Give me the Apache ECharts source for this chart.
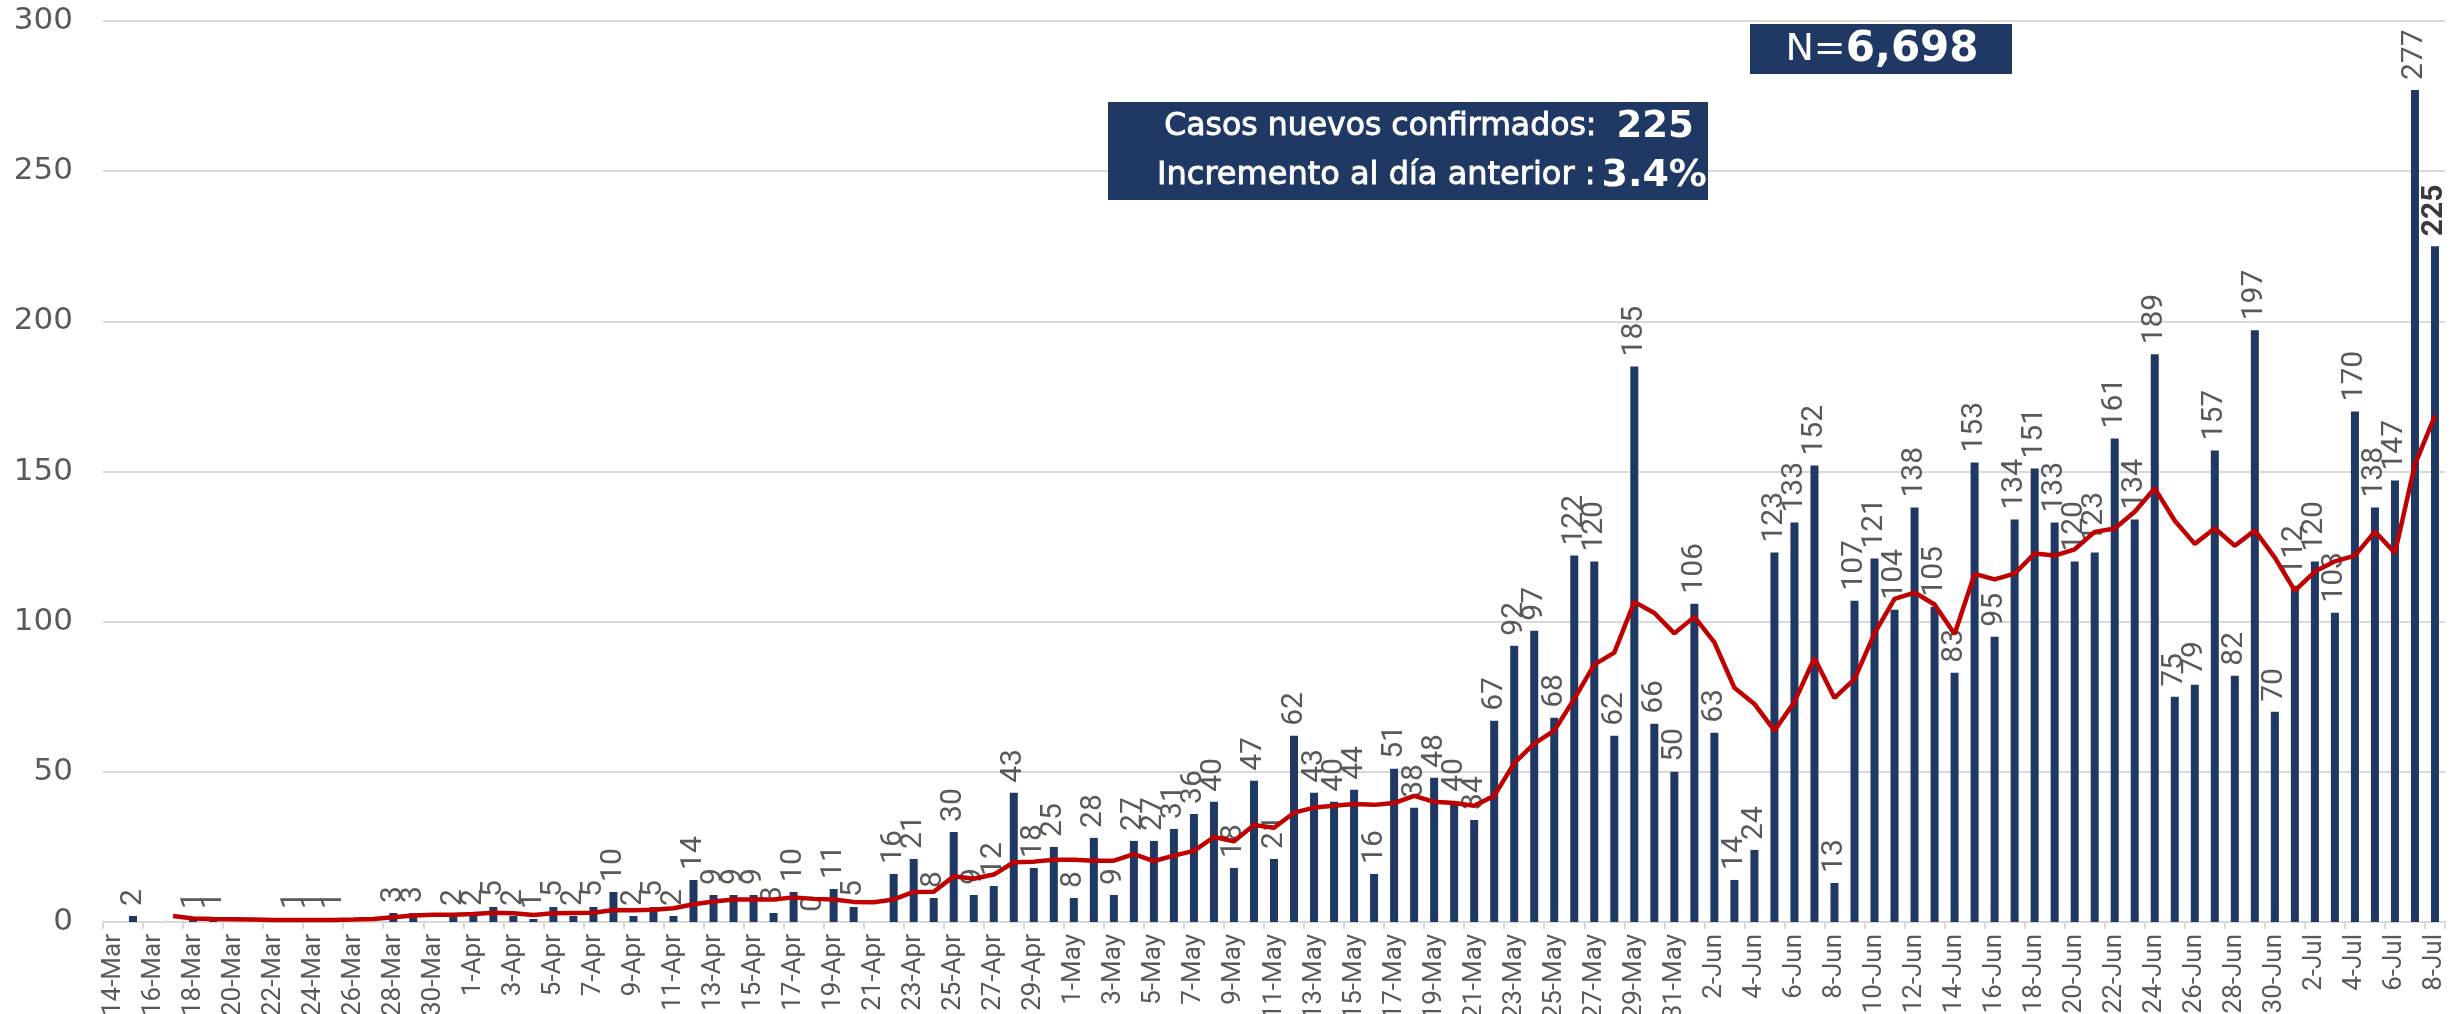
<!DOCTYPE html>
<html>
<head>
<meta charset="utf-8">
<script src="https://cdn.jsdelivr.net/npm/echarts@6/dist/echarts.min.js"></script>
<style>
html,body{margin:0;padding:0;background:#fff;}
#c{width:2464px;height:1014px;}
</style>
</head>
<body>
<div id="c"></div>
<script>
// Categories (one per day, 14-Mar to 8-Jul)
const datesMar = ['14-Mar','15-Mar','16-Mar','17-Mar','18-Mar','19-Mar','20-Mar','21-Mar','22-Mar','23-Mar','24-Mar','25-Mar','26-Mar','27-Mar','28-Mar','29-Mar','30-Mar','31-Mar'];
const datesApr = ['1-Apr','2-Apr','3-Apr','4-Apr','5-Apr','6-Apr','7-Apr','8-Apr','9-Apr','10-Apr','11-Apr','12-Apr','13-Apr','14-Apr','15-Apr','16-Apr','17-Apr','18-Apr','19-Apr','20-Apr','21-Apr','22-Apr','23-Apr','24-Apr','25-Apr','26-Apr','27-Apr','28-Apr','29-Apr','30-Apr'];
const datesMay = ['1-May','2-May','3-May','4-May','5-May','6-May','7-May','8-May','9-May','10-May','11-May','12-May','13-May','14-May','15-May','16-May','17-May','18-May','19-May','20-May','21-May','22-May','23-May','24-May','25-May','26-May','27-May','28-May','29-May','30-May','31-May'];
const datesJun = ['1-Jun','2-Jun','3-Jun','4-Jun','5-Jun','6-Jun','7-Jun','8-Jun','9-Jun','10-Jun','11-Jun','12-Jun','13-Jun','14-Jun','15-Jun','16-Jun','17-Jun','18-Jun','19-Jun','20-Jun','21-Jun','22-Jun','23-Jun','24-Jun','25-Jun','26-Jun','27-Jun','28-Jun','29-Jun','30-Jun'];
const datesJul = ['1-Jul','2-Jul','3-Jul','4-Jul','5-Jul','6-Jul','7-Jul','8-Jul'];

// New confirmed cases per day (null = no bar)
const casesMar = [null,2,null,null,1,1,null,null,null,1,1,1,null,null,3,3,null,2];
const casesApr = [2,5,2,1,5,2,5,10,2,5,2,14,9,9,9,3,10,0,11,5,null,16,21,8,30,9,12,43,18,25];
const casesMay = [8,28,9,27,27,31,36,40,18,47,21,62,43,40,44,16,51,38,48,40,34,67,92,97,68,122,120,62,185,66,50];
const casesJun = [106,63,14,24,123,133,152,13,107,121,104,138,105,83,153,95,134,151,133,120,123,161,134,189,75,79,157,82,197,70];
const casesJul = [112,120,103,170,138,147,277,225];

// Red moving-average line
const avgMar = [null,null,null,2.0,1.2,1.0,0.9,0.8,0.7,0.7,0.7,0.7,0.8,1.0,1.6,2.2,2.4,2.4];
const avgApr = [2.7,3.1,2.9,2.3,2.9,3.0,3.1,4.0,3.9,4.1,4.6,5.9,6.8,7.5,7.5,7.5,8.2,7.7,7.5,6.7,6.6,7.5,10.0,10.1,15.2,14.4,15.8,19.9,20.1,20.7];
const avgMay = [20.7,20.4,20.4,22.6,20.3,22.1,23.7,28.3,26.9,32.3,31.4,36.4,38.1,38.7,39.3,39.0,39.6,42.0,40.0,39.6,38.7,42.0,52.9,59.4,63.7,74.3,85.7,89.7,106.6,102.9,96.1];
const avgJun = [101.6,93.1,78.0,72.6,63.7,73.3,87.9,74.6,80.9,96.1,107.6,109.7,105.7,95.9,115.9,114.1,116.0,122.7,122.0,124.1,129.9,131.0,136.6,144.4,133.6,125.9,131.1,125.3,130.4,121.3];
const avgJul = [110.3,116.7,120.1,122.0,130.0,122.9,152.4,168.6];

// Y axis ticks
const yTicks = [0,50,100,150,200,250,300];

// Annotation texts
const boxLine1 = ['Casos nuevos confirmados:', '225'];
const boxLine2 = ['Incremento al día anterior :', '3.4%'];
const totalBox = ['N=', '6,698'];

const categories = [].concat(datesMar, datesApr, datesMay, datesJun, datesJul);
const cases = [].concat(casesMar, casesApr, casesMay, casesJun, casesJul);
const avg = [].concat(avgMar, avgApr, avgMay, avgJun, avgJul);

const NARROW = "Roboto, 'Liberation Sans', sans-serif";
const WIDE = "'DejaVu Sans', 'Noto Sans', sans-serif";
const NAVY = '#203864';

const barData = cases.map((v, i) => i === cases.length - 1
  ? { value: v, label: { fontWeight: 'bold', color: '#3a3a3a' } }
  : v);

const chart = echarts.init(document.getElementById('c'), null, { renderer: 'canvas' });
chart.setOption({
  animation: false,
  backgroundColor: '#ffffff',
  grid: { left: 103, right: 19, top: 21, bottom: 92, containLabel: false, outerBoundsMode: 'none' },
  xAxis: {
    type: 'category',
    data: categories,
    boundaryGap: true,
    axisLine: { show: true, lineStyle: { color: '#D9D9D9', width: 2 } },
    axisTick: { show: true, interval: 1, length: 7, lineStyle: { color: '#D9D9D9', width: 2 } },
    axisLabel: { interval: 1, rotate: 90, margin: 12, fontSize: 26, color: '#595959', fontFamily: NARROW }
  },
  yAxis: {
    type: 'value',
    min: yTicks[0],
    max: yTicks[yTicks.length - 1],
    interval: 50,
    axisLine: { show: false },
    axisTick: { show: false },
    axisLabel: { margin: 30, fontSize: 31, color: '#595959', fontFamily: WIDE },
    splitLine: { show: true, lineStyle: { color: '#D9D9D9', width: 2 } }
  },
  series: [
    {
      type: 'bar',
      data: barData,
      barWidth: '40%',
      itemStyle: { color: NAVY },
      label: {
        show: true,
        position: 'top',
        rotate: 90,
        align: 'left',
        verticalAlign: 'middle',
        distance: 10,
        fontSize: 30,
        color: '#595959',
        fontFamily: NARROW
      },
      z: 2
    },
    {
      type: 'line',
      data: avg,
      symbol: 'none',
      smooth: false,
      lineStyle: { color: '#C00000', width: 4.5 },
      itemStyle: { color: '#C00000' },
      z: 5
    }
  ],
  graphic: [
    { type: 'rect', left: 1108, top: 102, shape: { width: 600, height: 98 }, style: { fill: NAVY }, z: 10 },
    {
      type: 'text', x: 1429, y: 127, z: 11,
      style: {
        text: '{a|' + boxLine1[0] + '}{b|' + boxLine1[1] + '}',
        align: 'center', verticalAlign: 'middle',
        rich: {
          a: { fill: '#ffffff', stroke: '#ffffff', lineWidth: 0.9, fontSize: 31.5, fontFamily: WIDE },
          b: { fill: '#ffffff', fontSize: 37, fontWeight: 'bold', fontFamily: WIDE, padding: [0, 0, 0, 20] }
        }
      }
    },
    {
      type: 'text', x: 1432, y: 176, z: 11,
      style: {
        text: '{a|' + boxLine2[0] + '}{b|' + boxLine2[1] + '}',
        align: 'center', verticalAlign: 'middle',
        rich: {
          a: { fill: '#ffffff', stroke: '#ffffff', lineWidth: 0.9, fontSize: 32, fontFamily: WIDE },
          b: { fill: '#ffffff', fontSize: 38, fontWeight: 'bold', fontFamily: WIDE, padding: [0, 0, 0, 6] }
        }
      }
    },
    { type: 'rect', left: 1750, top: 24, shape: { width: 262, height: 50 }, style: { fill: NAVY }, z: 10 },
    {
      type: 'text', x: 1882, y: 50, z: 11,
      style: {
        text: '{a|' + totalBox[0] + '}{b|' + totalBox[1] + '}',
        align: 'center', verticalAlign: 'middle',
        rich: {
          a: { fill: '#ffffff', fontSize: 38, fontFamily: WIDE },
          b: { fill: '#ffffff', fontSize: 42, fontWeight: 'bold', fontFamily: WIDE }
        }
      }
    }
  ]
});
</script>
</body>
</html>
